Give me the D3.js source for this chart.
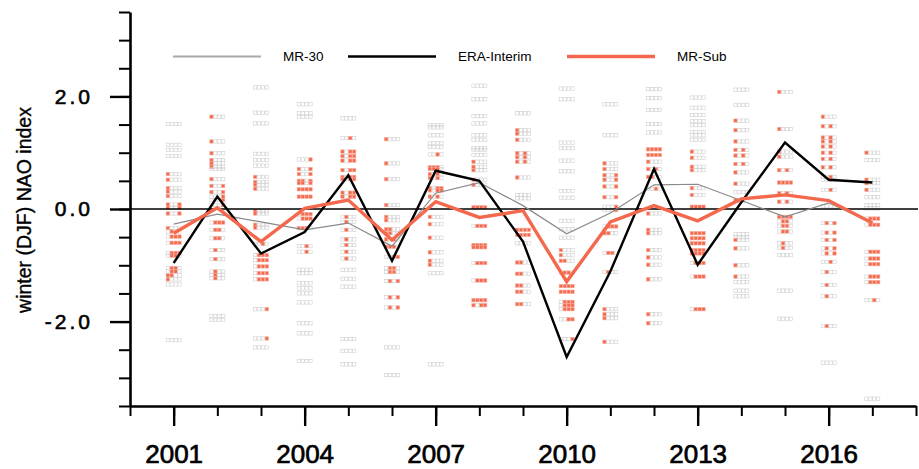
<!DOCTYPE html>
<html>
<head>
<meta charset="utf-8">
<script src="https://cdn.jsdelivr.net/npm/d3@7"></script>
<style>
  body { margin: 0; background: #fff; }
  svg { display: block; font-family: "Liberation Sans", Arial, sans-serif; }
</style>
</head>
<body>
<svg id="chart" width="919" height="469"></svg>
<script>
// winters (DJF), labelled by year
var years = [2001, 2002, 2003, 2004, 2005, 2006, 2007, 2008, 2009, 2010, 2011, 2012, 2013, 2014, 2015, 2016, 2017];

var era   = [-0.96, 0.22, -0.79, -0.41, 0.60, -0.92, 0.68, 0.50, -0.58, -2.63, -1.11, 0.71, -0.99, 0.12, 1.18, 0.52, 0.47];
var mr30  = [-0.27, -0.09, -0.23, -0.37, -0.25, -0.66, 0.28, 0.47, 0.06, -0.44, -0.07, 0.43, 0.44, 0.15, -0.14, 0.11, -0.25];
var mrSub = [-0.43, 0.02, -0.58, 0.01, 0.16, -0.55, 0.13, -0.15, -0.03, -1.29, -0.23, 0.06, -0.21, 0.18, 0.25, 0.15, -0.25];

var xMajor = [2001, 2004, 2007, 2010, 2013, 2016];
var yMajor = [-2, 0, 2];

// ensemble members per winter: [NAO value, which of the 4 boxes are in the sub-sample]
var members = [
  [[1.51,"0000"],[1.14,"0000"],[1.05,"0000"],[0.94,"0000"],[0.62,"1000"],[0.52,"1000"],[0.37,"1000"],[0.31,"1000"],[0.23,"1000"],[0.08,"1001"],[0.02,"1001"],[-0.08,"1001"],[-0.34,"1000"],[-0.40,"0100"],[-0.49,"0111"],[-0.60,"0111"],[-0.78,"0111"],[-0.83,"0110"],[-1.05,"0110"],[-1.11,"0110"],[-1.18,"1100"],[-1.25,"1000"],[-1.34,"0000"],[-2.33,"0000"]],
  [[1.64,"1000"],[1.20,"1000"],[0.99,"1000"],[0.87,"1000"],[0.81,"1000"],[0.75,"1000"],[0.71,"0000"],[0.53,"1000"],[0.41,"1001"],[0.30,"1001"],[0.22,"0001"],[0.16,"0001"],[0.07,"0001"],[-0.24,"0111"],[-0.37,"0110"],[-0.52,"0110"],[-0.73,"0100"],[-0.89,"0100"],[-1.11,"0100"],[-1.17,"0100"],[-1.23,"0100"],[-1.90,"0000"],[-1.97,"0000"]],
  [[2.16,"0000"],[1.71,"0000"],[1.52,"0000"],[0.98,"0000"],[0.87,"0000"],[0.77,"0000"],[0.57,"1000"],[0.48,"1000"],[0.43,"1000"],[0.36,"1000"],[-0.04,"1000"],[-0.08,"1000"],[-0.28,"1000"],[-0.33,"1000"],[-0.62,"0010"],[-0.82,"0111"],[-0.91,"0111"],[-1.02,"0111"],[-1.14,"0111"],[-1.25,"0111"],[-1.78,"0001"],[-2.30,"0001"],[-2.46,"0000"]],
  [[1.86,"0000"],[1.70,"0000"],[1.64,"0000"],[0.88,"0001"],[0.71,"1001"],[0.62,"1001"],[0.50,"1101"],[0.46,"1101"],[0.35,"1111"],[0.22,"1111"],[-0.09,"0111"],[-0.17,"0111"],[-0.34,"1110"],[-0.66,"0010"],[-0.76,"0010"],[-1.08,"0000"],[-1.14,"0000"],[-1.32,"0000"],[-1.41,"0000"],[-1.50,"0000"],[-1.66,"0000"],[-2.03,"0000"],[-2.21,"0000"],[-2.70,"0000"]],
  [[1.61,"0000"],[1.26,"0010"],[1.02,"1011"],[0.94,"1011"],[0.86,"1011"],[0.69,"1011"],[0.57,"1011"],[0.53,"1011"],[0.29,"1011"],[0.22,"1011"],[-0.14,"0100"],[-0.23,"0100"],[-0.37,"0100"],[-0.54,"0100"],[-0.64,"0100"],[-0.76,"0100"],[-0.88,"0100"],[-1.08,"0000"],[-1.24,"0000"],[-1.38,"0000"],[-2.31,"0000"],[-2.52,"0000"],[-2.76,"0000"]],
  [[1.24,"1000"],[0.81,"1000"],[0.53,"1000"],[0.07,"1000"],[-0.14,"1000"],[-0.20,"1000"],[-0.36,"1100"],[-0.43,"1100"],[-0.54,"1010"],[-0.67,"1110"],[-0.85,"0011"],[-1.05,"0110"],[-1.12,"0110"],[-1.28,"0101"],[-1.57,"0101"],[-1.75,"0101"],[-2.46,"0000"],[-2.95,"0000"]],
  [[1.49,"0000"],[1.45,"0000"],[1.31,"0000"],[1.17,"0000"],[1.10,"0000"],[0.97,"0010"],[0.74,"1110"],[0.71,"1110"],[0.62,"1010"],[0.55,"1010"],[0.37,"1011"],[0.33,"1011"],[0.22,"1010"],[-0.14,"1000"],[-0.27,"1000"],[-0.51,"1000"],[-0.77,"1000"],[-0.92,"1000"],[-0.99,"1000"],[-1.14,"0000"],[-2.76,"0000"]],
  [[2.19,"0000"],[1.95,"0000"],[1.65,"0000"],[1.52,"0000"],[1.31,"0000"],[1.23,"0000"],[1.08,"0000"],[1.05,"0000"],[0.96,"0000"],[0.84,"1000"],[0.75,"1000"],[0.69,"1000"],[0.52,"1000"],[0.43,"1000"],[0.03,"1111"],[-0.30,"0111"],[-0.64,"1111"],[-0.68,"1111"],[-0.96,"0111"],[-1.27,"0111"],[-1.62,"1111"],[-1.71,"1011"]],
  [[1.70,"0000"],[1.40,"1000"],[1.34,"1000"],[1.23,"1000"],[0.99,"1010"],[0.92,"1010"],[0.84,"1010"],[0.56,"1000"],[0.25,"0000"],[0.19,"0000"],[-0.37,"1111"],[-0.46,"1111"],[-0.61,"0000"],[-0.95,"1100"],[-1.15,"1100"],[-1.36,"1100"],[-1.47,"1100"],[-1.69,"1100"]],
  [[2.14,"0000"],[1.95,"0000"],[1.18,"0000"],[1.08,"0000"],[0.86,"0000"],[0.67,"0000"],[0.32,"0000"],[0.20,"0000"],[-0.21,"0000"],[-0.36,"0000"],[-0.51,"0000"],[-0.73,"1000"],[-0.82,"1000"],[-0.92,"1100"],[-1.13,"0110"],[-1.37,"1111"],[-1.47,"1111"],[-1.65,"0111"],[-1.71,"0111"],[-1.78,"0111"],[-1.96,"0011"],[-2.31,"0001"]],
  [[1.86,"0000"],[1.31,"0000"],[0.81,"1000"],[0.71,"1000"],[0.60,"1001"],[0.52,"1001"],[0.40,"1001"],[0.21,"1001"],[0.04,"0001"],[-0.02,"0001"],[-0.31,"0111"],[-0.43,"1100"],[-0.78,"0110"],[-1.12,"0100"],[-1.78,"1000"],[-1.87,"1000"],[-1.94,"1000"],[-2.36,"1000"]],
  [[2.13,"0000"],[1.97,"0000"],[1.76,"0000"],[1.51,"0000"],[1.36,"0000"],[1.06,"1111"],[0.96,"1111"],[0.84,"1000"],[0.71,"1010"],[0.57,"1100"],[0.36,"0010"],[-0.08,"1000"],[-0.37,"1000"],[-0.43,"1000"],[-0.73,"1000"],[-0.86,"1000"],[-0.99,"1000"],[-1.25,"1000"],[-1.87,"1000"],[-2.03,"1000"]],
  [[1.98,"0000"],[1.80,"0000"],[1.67,"0000"],[1.56,"0000"],[1.49,"0000"],[1.37,"0000"],[1.31,"0000"],[1.23,"0000"],[1.02,"1000"],[0.91,"1000"],[0.75,"1000"],[0.69,"1000"],[0.37,"1000"],[0.25,"1000"],[0.04,"1111"],[-0.43,"1111"],[-0.52,"1111"],[-0.61,"1111"],[-0.73,"1111"],[-0.79,"1111"],[-0.96,"0111"],[-1.20,"0111"],[-1.78,"0111"]],
  [[2.12,"0000"],[1.85,"0000"],[1.57,"1000"],[1.40,"1000"],[1.20,"1000"],[1.05,"1010"],[0.95,"1010"],[0.80,"1010"],[0.65,"1000"],[0.45,"1000"],[0.30,"0000"],[0.15,"1000"],[-0.45,"0000"],[-0.50,"0000"],[-0.55,"1000"],[-0.70,"1000"],[-1.00,"1000"],[-1.20,"1000"],[-1.30,"0000"],[-1.45,"0000"],[-1.55,"0000"]],
  [[2.08,"1000"],[1.42,"1000"],[1.02,"1000"],[0.93,"1000"],[0.69,"1010"],[0.47,"1111"],[0.28,"1010"],[0.13,"1010"],[-0.14,"1111"],[-0.22,"0110"],[-0.30,"0110"],[-0.40,"0110"],[-0.61,"0100"],[-0.69,"0100"],[-0.82,"0000"],[-1.45,"0000"],[-1.95,"0000"]],
  [[1.64,"1000"],[1.47,"1010"],[1.27,"1010"],[1.20,"1010"],[1.11,"1010"],[1.00,"1010"],[0.89,"1010"],[0.74,"1010"],[0.57,"0010"],[0.52,"0010"],[0.34,"0010"],[0.05,"0000"],[-0.25,"0101"],[-0.42,"0101"],[-0.55,"0101"],[-0.70,"0101"],[-0.79,"0101"],[-0.94,"0010"],[-1.12,"0100"],[-1.35,"0100"],[-1.55,"0100"],[-2.08,"0100"],[-2.73,"0000"]],
  [[1.00,"1000"],[0.87,"0000"],[0.52,"1000"],[0.46,"1000"],[0.34,"1000"],[0.21,"0000"],[0.07,"0000"],[0.01,"0000"],[-0.17,"0111"],[-0.28,"0111"],[-0.76,"0111"],[-0.88,"0111"],[-0.98,"0111"],[-1.20,"0111"],[-1.30,"0111"],[-1.62,"0010"],[-3.37,"0000"]]
];

var legendNames = ["MR-30", "ERA-Interim", "MR-Sub"];

var red = "#f4694d";

var svg = d3.select("#chart");

var x = d3.scaleLinear().domain([2000, 2018]).range([130, 916]);
var y = d3.scaleLinear().domain([-3.5, 3.5]).range([406, 12]);

// ensemble markers: a row of four small boxes per member
var cw = 3.9, ch = 3.4;
var memberG = svg.append("g");
years.forEach(function(yr, i) {
  members[i].forEach(function(m) {
    var x0 = x(yr) - 2 * cw, y0 = y(m[0]) - ch / 2;
    for (var k = 0; k < 4; k++) {
      var on = m[1][k] === "1";
      memberG.append("rect")
        .attr("x", x0 + k * cw + 0.3).attr("y", y0)
        .attr("width", cw - 0.6).attr("height", ch)
        .attr("fill", on ? red : "none")
        .attr("stroke", on ? "#f7a898" : "#cfcfcf").attr("stroke-width", 0.6);
    }
  });
});

// zero line
svg.append("line")
  .attr("x1", x(2000)).attr("x2", 918)
  .attr("y1", y(0)).attr("y2", y(0))
  .attr("stroke", "#000").attr("stroke-width", 1.6);

var line = d3.line()
  .x(function(d, i) { return x(years[i]); })
  .y(function(d) { return y(d); });

svg.append("path").datum(mr30).attr("d", line)
  .attr("fill", "none").attr("stroke", "#8a8a8a").attr("stroke-width", 1.2);
svg.append("path").datum(era).attr("d", line)
  .attr("fill", "none").attr("stroke", "#000").attr("stroke-width", 2.4);
svg.append("path").datum(mrSub).attr("d", line)
  .attr("fill", "none").attr("stroke", red).attr("stroke-width", 3.4);

// axes
var xAxis = svg.append("g").attr("transform", "translate(0,406)")
  .call(d3.axisBottom(x).tickValues(d3.range(2000, 2019)).tickSize(10).tickSizeOuter(0).tickFormat(""));
var xAxisMaj = svg.append("g").attr("transform", "translate(0,406)")
  .call(d3.axisBottom(x).tickValues(xMajor).tickSize(20).tickSizeOuter(0).tickPadding(19).tickFormat(d3.format("d")));
xAxisMaj.select(".domain").remove();
xAxis.select(".domain").attr("stroke-width", 2.6);
xAxis.selectAll(".tick line").attr("stroke-width", 2);
xAxisMaj.selectAll(".tick line").attr("stroke-width", 2.4);
xAxisMaj.selectAll("text").attr("font-size", 26)
  .attr("font-family", "Liberation Sans, Arial, sans-serif").attr("fill", "#000")
  .attr("stroke", "#000").attr("stroke-width", 0.7);

var yAxis = svg.append("g").attr("transform", "translate(130,0)")
  .call(d3.axisLeft(y).tickValues(d3.range(-3.5, 3.51, 0.5)).tickSize(11).tickSizeOuter(0).tickFormat(""));
var yAxisMaj = svg.append("g").attr("transform", "translate(130,0)")
  .call(d3.axisLeft(y).tickValues(yMajor).tickSize(20).tickSizeOuter(0).tickPadding(17)
    .tickFormat(function(d) { return d.toFixed(1); }));
yAxisMaj.select(".domain").remove();
yAxis.select(".domain").attr("stroke-width", 2.6);
yAxis.selectAll(".tick line").attr("stroke-width", 2);
yAxisMaj.selectAll(".tick line").attr("stroke-width", 2.4);
yAxisMaj.selectAll("text").attr("font-size", 21)
  .attr("font-family", "Liberation Sans, Arial, sans-serif")
  .attr("fill", "#000").attr("letter-spacing", 3)
  .attr("stroke", "#000").attr("stroke-width", 0.6);

svg.append("text")
  .attr("transform", "translate(31,210) rotate(-90)")
  .attr("text-anchor", "middle")
  .attr("font-size", 19.5)
  .attr("stroke", "#000").attr("stroke-width", 0.35)
  .text("winter (DJF) NAO index");

// legend
var legendX = [173, 348, 567];
var legendStyle = [
  {c: "#a8a8a8", w: 2},
  {c: "#000", w: 2.4},
  {c: red, w: 3.4}
];
legendNames.forEach(function(n, i) {
  svg.append("line")
    .attr("x1", legendX[i]).attr("x2", legendX[i] + 88)
    .attr("y1", 56.5).attr("y2", 56.5)
    .attr("stroke", legendStyle[i].c).attr("stroke-width", legendStyle[i].w);
  svg.append("text")
    .attr("x", legendX[i] + 110).attr("y", 56.5).attr("dy", "0.35em")
    .attr("font-size", 13.5)
    .text(n);
});
</script>
</body>
</html>
